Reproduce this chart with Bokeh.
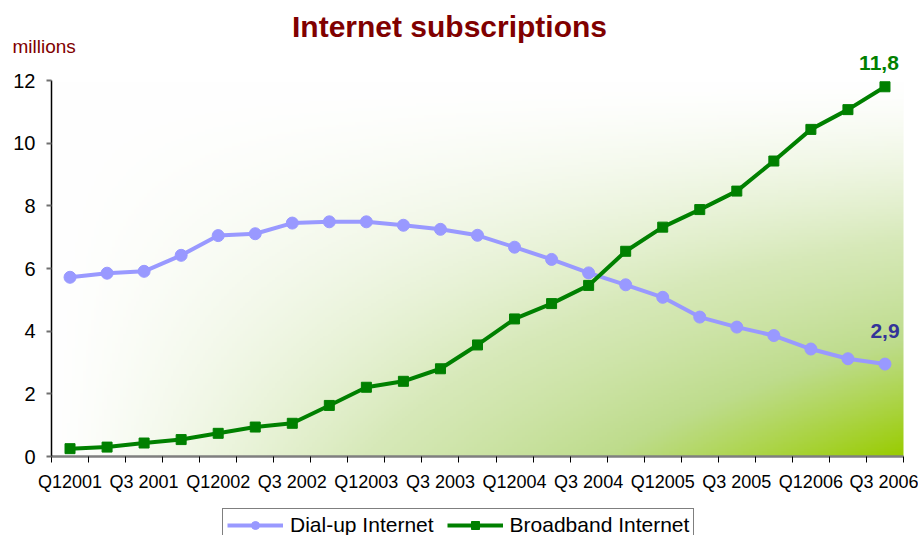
import numpy as np
from bokeh.plotting import figure
from bokeh.models import (FixedTicker, Label, Legend, LegendItem, Range1d)
from bokeh.embed import file_html
from bokeh.resources import INLINE

# ---- data ----
quarters = ["Q1 2001", "Q2 2001", "Q3 2001", "Q4 2001",
            "Q1 2002", "Q2 2002", "Q3 2002", "Q4 2002",
            "Q1 2003", "Q2 2003", "Q3 2003", "Q4 2003",
            "Q1 2004", "Q2 2004", "Q3 2004", "Q4 2004",
            "Q1 2005", "Q2 2005", "Q3 2005", "Q4 2005",
            "Q1 2006", "Q2 2006", "Q3 2006"]
dialup = [5.72, 5.85, 5.91, 6.42, 7.05, 7.11, 7.45, 7.49, 7.49, 7.38, 7.25, 7.06,
          6.68, 6.29, 5.86, 5.48, 5.08, 4.45, 4.13, 3.86, 3.43, 3.12, 2.95]
broadband = [0.25, 0.30, 0.43, 0.54, 0.74, 0.94, 1.06, 1.63, 2.21, 2.40, 2.80, 3.56,
             4.39, 4.88, 5.46, 6.55, 7.32, 7.88, 8.47, 9.43, 10.44, 11.07, 11.80]
tick_labels = ["Q12001", "Q3 2001", "Q12002", "Q3 2002", "Q12003", "Q3 2003",
               "Q12004", "Q3 2004", "Q12005", "Q3 2005", "Q12006", "Q3 2006"]
y_ticks = [0, 2, 4, 6, 8, 10, 12]
series_names = ["Dial-up Internet", "Broadband Internet"]
title_text = "Internet subscriptions"
unit_text = "millions"
last_broadband_label = "11,8"
last_dialup_label = "2,9"

n = len(quarters)
xs = list(range(n))
FONT = "Liberation Sans"
Y_MAX = 12
DIAL = "#9999ff"
BROAD = "#008000"

# ---- layout geometry (pixels) : plot box 51..903 x 80..456 in a 918x535 canvas ----
W, H = 918, 535
LEFT, RIGHT, TOP, BOTTOM = 51, 903, 80, 456
SX = (RIGHT - LEFT) / n          # px per category
SY = (BOTTOM - TOP) / Y_MAX      # px per million
X0 = -0.5 - LEFT / SX
X1 = X0 + W / SX
Y1 = BOTTOM / SY
Y0 = Y1 - H / SY


def dx(px):
    return X0 + px / SX


def dy(py):
    return Y1 - py / SY


p = figure(width=W, height=H, output_backend="svg", toolbar_location=None,
           x_range=Range1d(X0, X1), y_range=Range1d(Y0, Y1),
           min_border_left=0, min_border_right=0, min_border_top=0,
           min_border_bottom=0)
p.outline_line_color = None
p.xgrid.visible = False
p.ygrid.visible = False
p.background_fill_color = "white"
p.border_fill_color = "white"

# ---- background gradient (style) ----
ny, nx = 160, 320
gx = np.linspace(0, 1, nx)[None, :]
gy_top = 1 - np.linspace(0, 1, ny)[:, None]
t = (gx ** 1.2) * (gy_top ** 1.4)
stops_t = [0.0, 0.3, 0.6, 1.0]
stops_c = np.array([[255, 255, 255], [215, 233, 185], [190, 220, 140],
                    [153, 204, 0]], dtype=float)
img = np.empty((ny, nx), dtype=np.uint32)
view = img.view(dtype=np.uint8).reshape((ny, nx, 4))
for k in range(3):
    view[:, :, k] = np.interp(t, stops_t, stops_c[:, k]).astype(np.uint8)
view[:, :, 3] = 255
p.image_rgba(image=[img], x=-0.5, y=0, dw=n, dh=Y_MAX)

# ---- series ----
l1 = p.line(xs, dialup, line_color=DIAL, line_width=4)
s1 = p.scatter(xs, dialup, marker="circle", size=12, fill_color=DIAL, line_color=DIAL)
l2 = p.line(xs, broadband, line_color=BROAD, line_width=4)
s2 = p.scatter(xs, broadband, marker="square", size=10, fill_color=BROAD, line_color=BROAD)

# ---- axes (pinned at the data origin) ----
xa = p.xaxis[0]
xa.fixed_location = 0
xa.bounds = (-0.5, n - 0.5)
xa.ticker = FixedTicker(ticks=list(range(0, n, 2)),
                        minor_ticks=[i - 0.5 for i in range(n + 1)])
xa.major_label_overrides = {i * 2: lab for i, lab in enumerate(tick_labels)}
xa.major_tick_out = 0
xa.major_tick_in = 0
xa.minor_tick_out = 6
xa.minor_tick_in = 0
xa.minor_tick_line_color = "black"
xa.minor_tick_line_width = 1
xa.axis_line_color = "#7f7f7f"
xa.axis_line_width = 2.5
xa.major_label_text_font = FONT
xa.major_label_text_font_size = "18px"
xa.major_label_text_color = "black"
xa.major_label_standoff = 9

ya = p.yaxis[0]
ya.fixed_location = -0.5
ya.bounds = (0, Y_MAX)
ya.ticker = FixedTicker(ticks=y_ticks)
ya.minor_tick_line_color = None
ya.major_tick_out = 5
ya.major_tick_in = 0
ya.major_tick_line_color = "#707070"
ya.major_tick_line_width = 2
ya.axis_line_color = "black"
ya.axis_line_width = 1.5
ya.major_label_text_font = FONT
ya.major_label_text_font_size = "20px"
ya.major_label_text_color = "black"
ya.major_label_standoff = 11

# ---- texts ----
p.add_layout(Label(x=dx(449), y=dy(26), text=title_text, text_font=FONT,
                   text_font_size="30px", text_font_style="bold",
                   text_color="#800000", text_align="center",
                   text_baseline="alphabetic"))
p.add_layout(Label(x=dx(12), y=dy(46), text=unit_text, text_font=FONT,
                   text_font_size="19px", text_color="#800000",
                   text_align="left", text_baseline="alphabetic"))
p.add_layout(Label(x=xs[-1], y=broadband[-1], x_offset=-6, y_offset=24,
                   text=last_broadband_label, text_font=FONT,
                   text_font_size="21px", text_font_style="bold",
                   text_color=BROAD, text_align="center", text_baseline="middle"))
p.add_layout(Label(x=xs[-1], y=dialup[-1], x_offset=0, y_offset=33,
                   text=last_dialup_label, text_font=FONT,
                   text_font_size="21px", text_font_style="bold",
                   text_color="#333399", text_align="center", text_baseline="middle"))

# ---- legend (below the category labels) ----
legend = Legend(items=[LegendItem(label=series_names[0], renderers=[l1, s1]),
                       LegendItem(label=series_names[1], renderers=[l2, s2])],
                orientation="horizontal", location=(222, -7),
                border_line_color="black", border_line_width=1,
                background_fill_color="white", background_fill_alpha=1,
                label_text_font=FONT, label_text_font_size="21px",
                label_text_color="black",
                glyph_width=56, glyph_height=20, label_height=20,
                label_standoff=7, spacing=13, padding=4, margin=0)
p.add_layout(legend, "center")

open("out.html", "w").write(file_html(p, INLINE))
